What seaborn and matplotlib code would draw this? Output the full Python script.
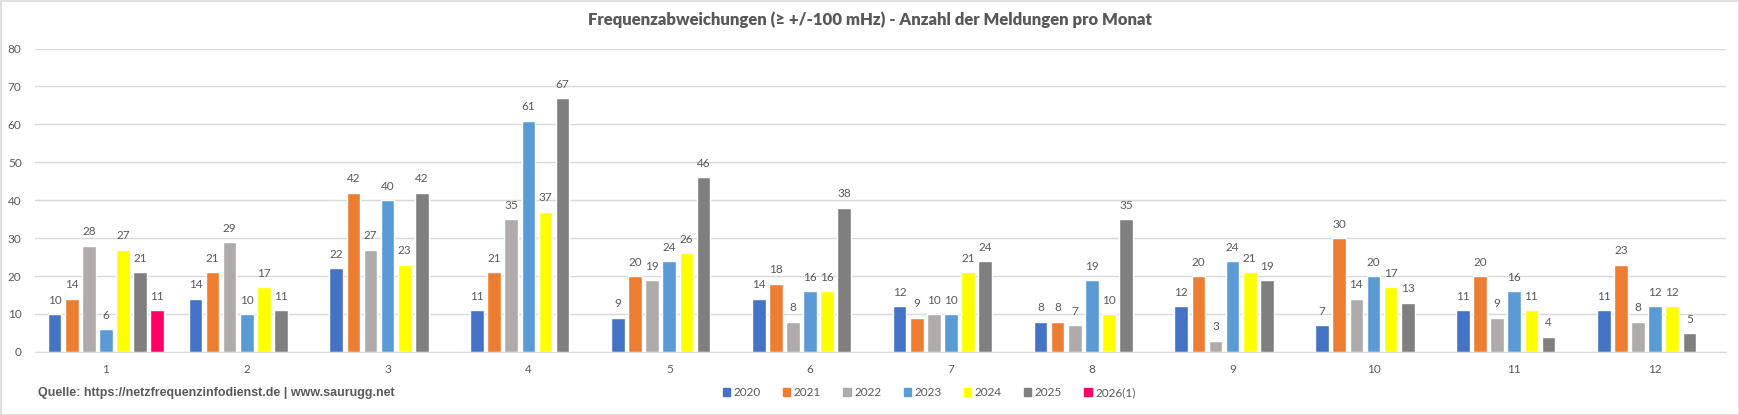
import numpy as np
import pandas as pd
import matplotlib
matplotlib.use("Agg")
import matplotlib.pyplot as plt
from matplotlib.patches import Rectangle
import seaborn as sns

months = [str(m) for m in range(1, 13)]
years = ["2020", "2021", "2022", "2023", "2024", "2025", "2026(1)"]
nan = np.nan

counts_2020 = [10, 14, 22, 11, 9, 14, 12, 8, 12, 7, 11, 11]
counts_2021 = [14, 21, 42, 21, 20, 18, 9, 8, 20, 30, 20, 23]
counts_2022 = [28, 29, 27, 35, 19, 8, 10, 7, 3, 14, 9, 8]
counts_2023 = [6, 10, 40, 61, 24, 16, 10, 19, 24, 20, 16, 12]
counts_2024 = [27, 17, 23, 37, 26, 16, 21, 10, 21, 17, 11, 12]
counts_2025 = [21, 11, 42, 67, 46, 38, 24, 35, 19, 13, 4, 5]
counts_2026 = [11, nan, nan, nan, nan, nan, nan, nan, nan, nan, nan, nan]

colors = ["#4472C4", "#ED7D31", "#AFABAB", "#5B9BD5", "#FFFF00", "#7F7F7F", "#FF0066"]

series = [counts_2020, counts_2021, counts_2022, counts_2023, counts_2024, counts_2025, counts_2026]
rows = []
for year, vals in zip(years, series):
    for month, v in zip(months, vals):
        rows.append({"Monat": month, "Jahr": year, "Anzahl": v})
df = pd.DataFrame(rows)

sns.set_style("white")
plt.rcParams["font.family"] = ["Lato", "DejaVu Sans"]
text_grey = "#595959"

fig = plt.figure(figsize=(17.4, 4.15), dpi=100)
ax = fig.add_axes([0.0204, 0.152, 0.9713, 0.731])

sns.barplot(data=df, x="Monat", y="Anzahl", hue="Jahr", order=months,
            hue_order=years, palette=colors, width=0.85, gap=0.2,
            saturation=1, errorbar=None, legend=False, ax=ax)

# data labels above each bar
for cont in ax.containers:
    labels = ["" if np.isnan(v) else f"{v:.0f}" for v in cont.datavalues]
    ax.bar_label(cont, labels=labels, padding=6, fontsize=8.5, color=text_grey)

ax.set_ylim(0, 80)
ax.set_yticks(range(0, 81, 10))
ax.set_xlim(-0.5, 11.5)
ax.set_xlabel("")
ax.set_ylabel("")
ax.yaxis.grid(True, color="#D9D9D9", linewidth=1)
ax.set_axisbelow(True)
for side in ["left", "right", "top"]:
    ax.spines[side].set_visible(False)
ax.spines["bottom"].set_color("#D9D9D9")
ax.tick_params(axis="both", length=0, labelsize=8.5, colors=text_grey)
ax.tick_params(axis="x", pad=9)
ax.tick_params(axis="y", pad=10)

fig.text(0.5, 0.952, "Frequenzabweichungen (≥ +/-100 mHz) - Anzahl der Meldungen pro Monat",
         ha="center", va="center", fontsize=12, fontweight="heavy", color=text_grey)
fig.text(0.022, 0.052, "Quelle: https://netzfrequenzinfodienst.de | www.saurugg.net",
         ha="left", va="center", fontsize=9, fontweight="bold", color=text_grey,
         family=["Liberation Sans", "DejaVu Sans"])

handles = [Rectangle((0, 0), 1, 1, color=c) for c in colors]
fig.legend(handles, years, loc="center", bbox_to_anchor=(0.534, 0.054), ncol=7,
           frameon=False, fontsize=8.5, handlelength=0.6, handleheight=0.6,
           handletextpad=0.3, columnspacing=1.9, labelcolor=text_grey)

fig.patches.append(Rectangle((0.0005, 0.001), 0.999, 0.997, transform=fig.transFigure,
                             fill=False, edgecolor="#D9D9D9", linewidth=1.2))

fig.savefig("out.png", dpi=100, facecolor="white")
